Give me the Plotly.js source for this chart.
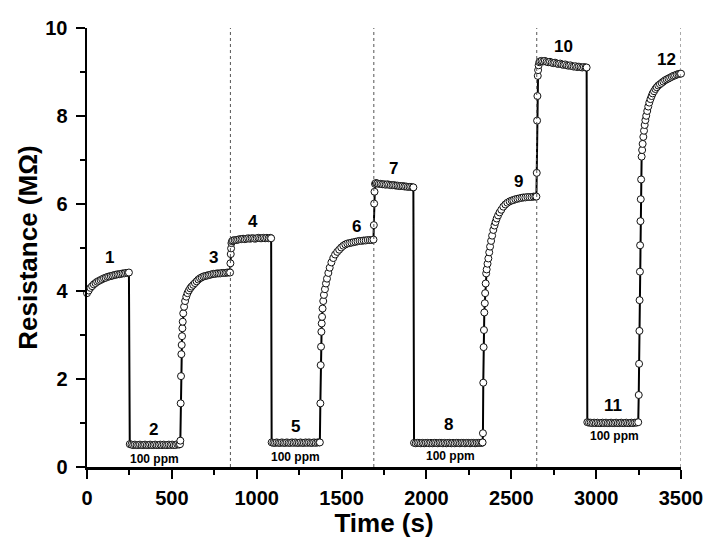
<!DOCTYPE html>
<html>
<head>
<meta charset="utf-8">
<script src="https://cdn.plot.ly/plotly-3.0.1.min.js"></script>
<style>html,body{margin:0;padding:0;background:#fff;}#chart{width:705px;height:539px;}</style>
</head>
<body>
<div id="chart"></div>
<script>
// ---- Data (time in s, resistance in MOhm) ----
// Step 1: RH 80% baseline
const t01 = [0,10,20,30,40,50,60,70,80,90,100,110,120,130,140,150,160,170,180,190,200,210,220,230,240,247];
const r01 = [3.96,4.02,4.08,4.12,4.16,4.19,4.22,4.24,4.26,4.28,4.30,4.31,4.33,4.34,4.35,4.36,4.37,4.38,4.39,4.39,4.40,4.41,4.41,4.42,4.42,4.43];
// Step 2: 100 ppm exposure
const t02 = [252,262,272,282,292,302,312,322,332,342,352,362,372,382,392,402,412,422,432,442,452,462,472,482,492,502,512,522,532,542,548];
const r02 = [0.52,0.51,0.50,0.51,0.50,0.50,0.51,0.50,0.50,0.51,0.50,0.50,0.51,0.50,0.50,0.51,0.50,0.50,0.51,0.50,0.51,0.50,0.50,0.51,0.50,0.51,0.50,0.50,0.52,0.51,0.52];
// Step 3: recovery
const t03 = [550,552,554,556,558,560,562,564,567,572,578,585,592,600,608,616,626,636,646,656,666,676,686,696,706,716,726,736,746,756,766,776,786,796,806,816,826,836,843];
const r03 = [0.60,1.45,2.07,2.57,2.78,2.98,3.16,3.31,3.50,3.65,3.78,3.88,3.96,4.02,4.07,4.11,4.15,4.19,4.23,4.27,4.30,4.32,4.34,4.35,4.36,4.37,4.38,4.39,4.40,4.40,4.41,4.41,4.41,4.42,4.42,4.42,4.43,4.43,4.43];
// Step 4: RH 60% baseline
const t04 = [845,847,849,851,854,860,870,880,890,900,910,920,930,940,950,960,970,980,990,1000,1010,1020,1030,1040,1050,1060,1070,1080,1085];
const r04 = [4.64,4.85,4.98,5.10,5.14,5.16,5.17,5.17,5.18,5.19,5.19,5.20,5.19,5.20,5.21,5.20,5.21,5.21,5.20,5.21,5.22,5.21,5.21,5.22,5.21,5.22,5.21,5.22,5.21];
// Step 5: 100 ppm exposure
const t05 = [1088,1098,1108,1118,1128,1138,1148,1158,1168,1178,1188,1198,1208,1218,1228,1238,1248,1258,1268,1278,1288,1298,1308,1318,1328,1338,1348,1358,1368,1372];
const r05 = [0.56,0.55,0.55,0.56,0.55,0.55,0.56,0.55,0.55,0.56,0.55,0.55,0.56,0.55,0.56,0.55,0.55,0.56,0.55,0.55,0.56,0.55,0.56,0.55,0.55,0.56,0.55,0.56,0.56,0.56];
// Step 6: recovery
const t06 = [1375,1377,1379,1381,1383,1385,1388,1392,1396,1402,1408,1414,1422,1430,1440,1451,1462,1474,1486,1498,1510,1522,1534,1546,1558,1570,1582,1594,1606,1618,1630,1642,1654,1666,1677,1688];
const r06 = [1.45,2.32,2.74,3.08,3.27,3.42,3.61,3.78,3.92,4.05,4.18,4.29,4.42,4.54,4.66,4.76,4.84,4.90,4.95,5.00,5.04,5.07,5.09,5.10,5.11,5.12,5.13,5.14,5.15,5.15,5.16,5.16,5.17,5.17,5.17,5.18];
// Step 7: RH 40% baseline
const t07 = [1690,1692,1694,1697,1702,1710,1720,1730,1740,1750,1760,1770,1780,1790,1800,1810,1820,1830,1840,1850,1860,1870,1880,1890,1900,1910,1920,1923];
const r07 = [5.51,6.00,6.27,6.45,6.47,6.46,6.45,6.45,6.44,6.44,6.43,6.44,6.43,6.42,6.42,6.42,6.41,6.41,6.40,6.40,6.40,6.39,6.39,6.38,6.38,6.38,6.37,6.37];
// Step 8: 100 ppm exposure
const t08 = [1927,1937,1947,1957,1967,1977,1987,1997,2007,2017,2027,2037,2047,2057,2067,2077,2087,2097,2107,2117,2127,2137,2147,2157,2167,2177,2187,2197,2207,2217,2227,2237,2247,2257,2267,2277,2287,2297,2307,2317,2327,2331];
const r08 = [0.55,0.54,0.55,0.55,0.54,0.55,0.54,0.55,0.55,0.54,0.55,0.54,0.55,0.55,0.54,0.55,0.55,0.54,0.55,0.54,0.55,0.55,0.54,0.55,0.54,0.55,0.55,0.54,0.55,0.55,0.54,0.55,0.55,0.54,0.55,0.55,0.54,0.55,0.55,0.55,0.55,0.56];
// Step 9: recovery
const t09 = [2333,2335,2337,2339,2341,2344,2346,2349,2352,2355,2360,2365,2370,2375,2381,2387,2394,2401,2407,2414,2422,2431,2441,2453,2465,2477,2490,2502,2512,2524,2536,2548,2560,2571,2583,2595,2607,2619,2631,2641,2648];
const r09 = [0.77,1.92,2.73,3.12,3.52,3.73,3.96,4.18,4.41,4.50,4.63,4.75,4.89,5.02,5.15,5.27,5.40,5.50,5.58,5.66,5.73,5.80,5.86,5.93,5.98,6.02,6.05,6.07,6.08,6.10,6.11,6.12,6.13,6.14,6.14,6.15,6.15,6.15,6.16,6.16,6.16];
// Step 10: RH 30% baseline
const t10 = [2650,2652,2654,2656,2658,2661,2665,2669,2678,2688,2698,2708,2718,2728,2738,2748,2758,2768,2778,2788,2798,2808,2818,2828,2838,2848,2858,2868,2878,2888,2898,2908,2918,2928,2938,2944];
const r10 = [6.70,7.89,8.45,8.91,9.04,9.15,9.22,9.24,9.25,9.24,9.25,9.23,9.22,9.23,9.21,9.20,9.21,9.19,9.18,9.19,9.17,9.16,9.17,9.15,9.14,9.15,9.13,9.12,9.13,9.11,9.12,9.11,9.10,9.11,9.10,9.10];
// Step 11: 100 ppm exposure
const t11 = [2948,2958,2968,2978,2988,2998,3008,3018,3028,3038,3048,3058,3068,3078,3088,3098,3108,3118,3128,3138,3148,3158,3168,3178,3188,3198,3208,3218,3228,3238,3248];
const r11 = [1.02,1.01,1.01,1.00,1.01,1.00,1.01,1.00,1.00,1.01,1.00,1.01,1.00,1.00,1.01,1.00,1.00,1.01,1.00,1.00,1.01,1.00,1.00,1.01,1.00,1.00,1.01,1.00,1.01,1.01,1.02];
// Step 12: recovery
const t12 = [3251,3253,3255,3256,3258,3259,3261,3263,3265,3268,3271,3274,3278,3282,3286,3290,3295,3301,3307,3313,3320,3327,3333,3341,3349,3357,3366,3376,3386,3396,3406,3416,3426,3436,3446,3455,3465,3475,3485,3494,3500];
const r12 = [1.64,2.35,3.10,3.80,4.45,5.05,5.60,6.10,6.55,7.07,7.22,7.36,7.52,7.66,7.79,7.90,8.00,8.11,8.21,8.30,8.38,8.45,8.51,8.56,8.61,8.65,8.69,8.72,8.75,8.78,8.81,8.83,8.85,8.87,8.89,8.91,8.92,8.94,8.95,8.96,8.96];

// Text content
const stepLabels = ['1','2','3','4','5','6','7','8','9','10','11','12'];
const rhLabels = ['RH 80%','RH 60%','RH 40%','RH 30%'];
const gasLabel = '100 ppm';
const boundaries = [845, 1690, 2650, 3500];

// ---- Build ----
const timeAll = [].concat(t01,t02,t03,t04,t05,t06,t07,t08,t09,t10,t11,t12);
const resAll = [].concat(r01,r02,r03,r04,r05,r06,r07,r08,r09,r10,r11,r12);

const FONT = 'Liberation Sans, Arial, Helvetica, sans-serif';

const trace = {
  x: timeAll, y: resAll, type: 'scatter', mode: 'lines+markers',
  line: {color: '#000', width: 2},
  marker: {symbol: 'circle', size: 7, color: '#fff', line: {color: '#111', width: 1}},
  cliponaxis: false, hoverinfo: 'x+y'
};

const stepPos = [[130,4.78],[391,0.86],[744,4.78],[980,5.59],[1230,0.93],[1585,5.47],[1805,6.80],[2129,0.96],[2542,6.50],[2807,9.59],[3101,1.41],[3416,9.29]];
const ppmPos = [[395,0.18],[1230,0.22],[2139,0.25],[3111,0.71]];
const rhPos = [[426,10.12],[1285,10.12],[2174,10.12],[3121,10.12]];

const annotations = [];
stepLabels.forEach((s,i) => annotations.push({x: stepPos[i][0], y: stepPos[i][1], xref:'x', yref:'y', text: s, showarrow:false,
  font:{family: FONT, size: 17, color:'#000', weight:'bold'}}));
ppmPos.forEach(p => annotations.push({x: p[0], y: p[1], xref:'x', yref:'y', text: gasLabel, showarrow:false,
  font:{family: FONT, size: 12, color:'#000', weight:'bold'}}));
rhLabels.forEach((s,i) => annotations.push({x: rhPos[i][0], y: rhPos[i][1], xref:'x', yref:'y', text: s, showarrow:false,
  font:{family: FONT, size: 17, color:'#000', weight:'bold'}}));

const shapes = boundaries.map(b => ({type:'line', xref:'x', yref:'y', x0:b, x1:b, y0:0, y1:10,
  line:{color:'#555', width:1, dash:'3px,3px'}}));

const axisCommon = {
  showline: true, linecolor: '#000', linewidth: 2.5, mirror: false,
  showgrid: false, zeroline: false,
  ticks: 'outside', ticklen: 9, tickwidth: 2, tickcolor: '#000',
  tickfont: {family: FONT, size: 20, color: '#000', weight: 'bold'}
};

const layout = {
  width: 705, height: 539,
  margin: {l: 87, r: 24, t: 28, b: 72},
  paper_bgcolor: '#fff', plot_bgcolor: '#fff',
  showlegend: false,
  font: {family: FONT, color: '#000'},
  xaxis: Object.assign({}, axisCommon, {
    range: [0, 3500], tick0: 0, dtick: 500, ticklabelstandoff: 2,
    minor: {ticks: 'outside', ticklen: 5, tickwidth: 2, tickcolor: '#000', dtick: 250, showgrid: false},
    title: {text: 'Time (s)', font: {family: FONT, size: 26, color: '#000', weight: 'bold'}, standoff: 6}
  }),
  yaxis: Object.assign({}, axisCommon, {
    range: [0, 10], tick0: 0, dtick: 2, ticklabelstandoff: 4,
    minor: {ticks: 'outside', ticklen: 5, tickwidth: 2, tickcolor: '#000', dtick: 1, showgrid: false},
    title: {text: 'Resistance (MΩ)', font: {family: FONT, size: 26, color: '#000', weight: 'bold'}, standoff: 0}
  }),
  annotations: annotations,
  shapes: shapes
};

Plotly.newPlot('chart', [trace], layout, {displayModeBar: false, staticPlot: true});
</script>
</body>
</html>
